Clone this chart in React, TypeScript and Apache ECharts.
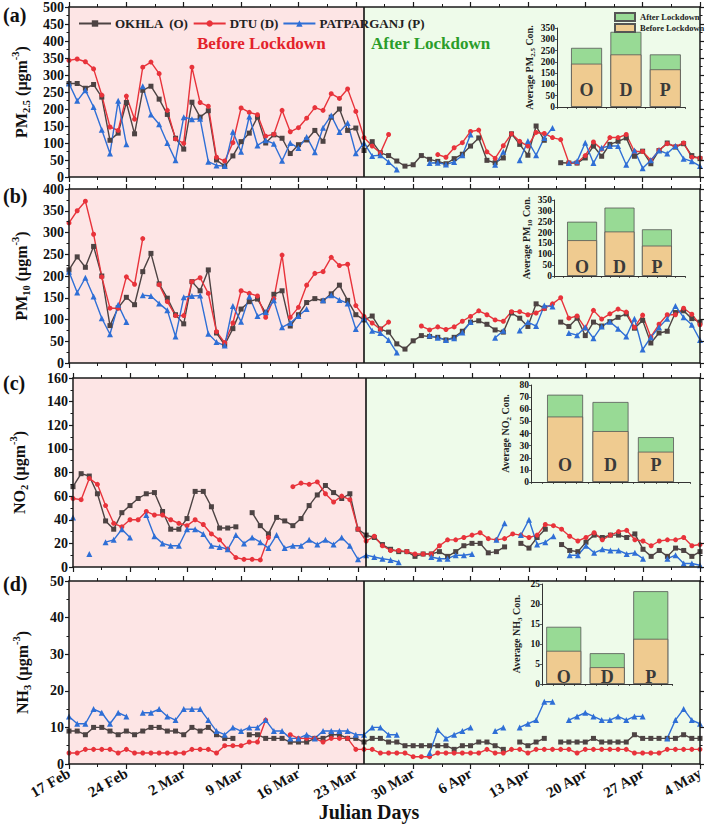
import React, { useEffect, useRef } from "react";
import * as echarts from "echarts";

const tickLabels = ["17 Feb", "24 Feb", "2 Mar", "9 Mar", "16 Mar", "23 Mar", "30 Mar", "6 Apr", "13 Apr", "20 Apr", "27 Apr", "4 May"];
const seriesNames = ["OKHLA  (O)", "DTU (D)", "PATPARGANJ (P)"];
const insetCats = ["O", "D", "P"];
const N = null;

// PM2.5 daily (17 Feb .. 4 May)
const pm25O = [275,275,261,272,235,108,129,219,127,255,267,229,184,114,82,220,176,195,50,32,62,104,129,176,100,124,114,69,95,109,137,105,176,200,137,144,
  78,104,71,63,47,32,36,63,52,46,39,54,67,91,115,49,42,56,127,96,64,150,108,N,42,41,41,56,91,61,96,105,115,61,76,39,78,100,88,98,63,54];
const pm25D = [343,347,339,318,241,147,137,238,170,323,338,304,196,112,99,323,219,208,58,47,101,203,190,183,120,126,196,133,145,173,204,196,245,231,259,193,
  116,91,71,125,N,N,N,N,N,66,58,86,101,134,138,74,55,92,127,105,91,131,128,116,110,42,42,63,103,82,116,116,125,75,75,49,79,98,90,100,58,56];
const pm25P = [275,224,255,206,139,69,224,96,N,267,184,155,100,49,176,170,171,45,34,32,133,74,178,93,108,98,48,100,85,118,73,145,181,132,159,70,
  100,62,64,44,22,N,N,N,41,42,37,44,64,125,N,N,36,74,N,49,106,64,115,144,N,41,46,101,41,86,91,91,36,78,26,49,78,69,91,54,46,32];

// PM10
const pm10O = [214,244,220,268,200,86,127,151,134,210,252,182,149,111,90,187,166,214,69,42,79,124,141,147,115,158,166,85,111,139,148,143,159,179,144,111,
  99,108,78,71,44,32,51,63,61,59,53,59,73,94,97,89,76,71,115,103,84,136,126,N,94,84,103,63,94,85,95,105,113,80,98,46,69,73,116,120,102,94];
const pm10D = [322,350,372,296,198,126,126,198,181,286,N,180,141,109,109,187,196,160,72,47,92,166,160,154,105,148,248,105,128,179,206,210,243,224,227,132,
  107,92,78,94,N,N,N,85,76,83,77,83,96,107,120,111,99,96,118,118,111,115,125,136,150,103,108,80,121,101,113,124,117,82,110,60,89,111,111,126,112,88];
const pm10P = [210,162,196,153,103,66,134,94,N,156,154,137,121,61,151,154,155,67,48,40,131,95,153,108,117,144,82,92,108,124,N,144,156,145,137,78,
  103,74,69,53,24,N,N,N,63,58,53,57,70,94,N,N,58,74,N,75,94,85,132,130,N,69,64,82,57,84,95,79,61,102,31,59,82,102,131,105,88,53];

// NO2
const no2O = [68,79,77,62,39,32,46,52,58,62,63,47,32,32,41,64,64,51,33,33,34,N,46,35,28,42,39,35,41,52,61,69,63,58,62,32,
  27,25,19,15,13,13,9,11,11,13,9,13,18,20,20,12,13,17,N,20,16,25,32,N,19,14,13,21,27,25,27,27,25,28,15,9,14,9,16,14,9,13];
const no2D = [58,57,75,70,52,37,34,40,40,47,44,44,40,37,35,40,36,28,23,15,8,6.5,6.5,6,25,N,N,68,71,70,72,62,55,60,57,32,
  22,26,18,14,14,13,11,11,11,18,23,23,25,27,29,24,23,24,28,27,25,27,36,35,32,26,22,25,29,23,27,30,31,23,22,18,22,23,23,25,18,19];
const no2P = [42,N,11,N,21,23,32,25,N,44,26,20,18,18,32,32,28,18,17,15,27,20,25,21,16,27,16,18,18,23,19,23,19,25,18,6.5,
  10,8.5,7,6,4,N,N,N,8.5,7,7,10,10,11,N,N,23,37,N,27,40,19,21,26,N,10,10,18,12,15,14,14,11,12,7,N,N,7,10,3,3,1.5];

// NH3
const nh3O = [9,9,8,10,10,9,8,9,8,9,10,10,9,9,8,10,9,10,8,7,7,N,8,8,7,7,7,6,6,6,7,7,8,8,7,7,
  6,7,7,6,6,5,5,5,5,5,5,4,5,5,6,6,5,4,N,6,5,6,7,N,6,6,6,6,7,6,6,6,6,8,7,7,7,7,7,8,7,7];
const nh3D = [3,3,4,4,4,4,3,4,3,3,3,3,3,3,3,4,4,4,3,5,5,5,6,6,12,N,N,8,7,7,7,6,7,7,7,4,
  4,4,3,3,3,3,2,2,2,3,3,3,3,3,3,4,3,3,4,4,3,4,4,4,4,4,3,4,4,4,4,4,4,3,3,3,3,4,4,4,4,4];
const nh3P = [13,11,11,15,14,11,14,13,N,14,14,15,13,12,15,15,15,12,9,8,10,9,10,10,12,9,9,7,7,8,7,9,9,9,9,8,
  8,10,10,8,8,N,N,N,3,9.3,7,8,9,10,N,N,9,10,N,10,11,12,17,17,N,12,13,14,13,12,12,13,12,13,13,N,N,7,12,15,12,11];

// inset averages (before lockdown, after lockdown, stacked)
const pm25Before = [192, 233, 167];
const pm25After = [70, 100, 66];
const pm10Before = [165, 205, 140];
const pm10After = [85, 110, 75];
const no2Before = [54, 42, 25];
const no2After = [18, 24, 12];
const nh3Before = [8.3, 4.2, 11.3];
const nh3After = [6.0, 3.5, 11.9];

const serif = "'Liberation Serif', 'Times New Roman', serif";
const colors = ["#4d4343", "#e8333b", "#2f6fd6"];
const symbols = ["rect", "circle", "triangle"];
const symbolSizes = [5, 5, 6];

const panels = [
  { data: [pm25O, pm25D, pm25P], max: 500, interval: 50, top: 7, height: 170, sub: "2.5", base: "PM", gap: 37,
    before: pm25Before, after: pm25After, inset: { left: 557, top: 28, width: 128, height: 79, min: 0.25, max: 3.5, ymax: 350, yint: 50, bw: 31, dist: 8, gap: 21 } },
  { data: [pm10O, pm10D, pm10P], max: 400, interval: 50, top: 189, height: 174, sub: "10", base: "PM", gap: 37,
    before: pm10Before, after: pm10After, inset: { left: 554, top: 200, width: 131, height: 76, min: 0.25, max: 3.75, ymax: 350, yint: 50, bw: 30, dist: 0, gap: 21 } },
  { data: [no2O, no2D, no2P], max: 160, interval: 20, top: 378, height: 189, sub: "2", base: "NO", gap: 43,
    before: no2Before, after: no2After, inset: { left: 531, top: 385, width: 159, height: 97, min: 0.25, max: 3.75, ymax: 80, yint: 10, bw: 36, dist: 8, gap: 19 } },
  { data: [nh3O, nh3D, nh3P], max: 50, interval: 10, top: 581, height: 183, sub: "3", base: "NH", gap: 36,
    before: nh3Before, after: nh3After, inset: { left: 542, top: 584, width: 130.5, height: 100, min: 0.5, max: 3.5, ymax: 25, yint: 5, bw: 35, dist: -2, gap: 19 } },
];

const lineC = "#1a1a1a";

export default function App() {
  const ref = useRef<HTMLDivElement>(null);
  useEffect(() => {
    if (!ref.current) return;
    const chart = echarts.init(ref.current, null, { renderer: "svg" });
    const grid: any[] = [];
    const xAxis: any[] = [];
    const yAxis: any[] = [];
    const series: any[] = [];

    panels.forEach((p) => {
      grid.push({ left: 69, top: p.top, width: 631, height: p.height });
    });
    panels.forEach((p) => {
      grid.push({ left: p.inset.left, top: p.inset.top, width: p.inset.width, height: p.inset.height });
    });

    const tickBase = {
      z: 10,
      axisLine: { show: true, onZero: false, lineStyle: { color: lineC, width: 1.5 } },
      axisTick: { show: true, inside: false, length: 5, lineStyle: { color: lineC, width: 1.2 } },
      minorTick: { show: true, splitNumber: 2, length: 3, lineStyle: { color: lineC, width: 1 } },
      splitLine: { show: false },
    };

    // main x axes (bottom) 0..3
    panels.forEach((p, i) => {
      xAxis.push({
        type: "value", gridIndex: i, min: 0, max: 77, interval: 7, position: "bottom",
        ...tickBase,
        axisLabel: {
          show: i === 3, rotate: 30, fontSize: 15, fontWeight: "bold", fontFamily: serif, color: "#111", margin: 8,
          formatter: (v: number) => tickLabels[Math.round(v / 7)] || "",
        },
      });
    });
    // main x axes (top) 4..7
    panels.forEach((p, i) => {
      xAxis.push({
        type: "value", gridIndex: i, min: 0, max: 77, interval: 7, position: "top",
        ...tickBase, axisLabel: { show: false },
      });
    });
    // inset x axes 8..11
    panels.forEach((p, i) => {
      xAxis.push({
        type: "value", gridIndex: 4 + i, min: p.inset.min, max: p.inset.max, interval: 0.25, position: "bottom", z: 10,
        axisLine: { show: true, onZero: false, lineStyle: { color: "#333", width: 1 } },
        axisTick: { show: true, length: 2, lineStyle: { color: "#333", width: 0.8 } },
        splitLine: { show: false }, axisLabel: { show: false },
      });
    });

    // main y axes left 0..3
    panels.forEach((p, i) => {
      yAxis.push({
        type: "value", gridIndex: i, min: 0, max: p.max, interval: p.interval, position: "left",
        ...tickBase,
        axisTick: { show: true, inside: false, length: 4, lineStyle: { color: lineC, width: 1.2 } },
        minorTick: { show: true, splitNumber: 2, length: 2.5, lineStyle: { color: lineC, width: 1 } },
        axisLabel: { fontSize: 14, lineHeight: 11, fontWeight: "bold", fontFamily: serif, color: "#111", margin: 5 },
        name: `{n|${p.base}}{s|${p.sub}}{n| (μgm}{p|-3}{n|)}`,
        nameLocation: "middle", nameGap: p.gap, nameRotate: 90,
        nameTextStyle: {
          rich: {
            n: { fontSize: 16, fontWeight: "bold", fontFamily: serif, color: "#111", lineHeight: 22 },
            s: { fontSize: 10.5, fontWeight: "bold", fontFamily: serif, color: "#111", lineHeight: 11, verticalAlign: "bottom" },
            p: { fontSize: 10.5, fontWeight: "bold", fontFamily: serif, color: "#111", lineHeight: 11, verticalAlign: "top" },
          },
        },
      });
    });
    // main y axes right 4..7
    panels.forEach((p, i) => {
      yAxis.push({
        type: "value", gridIndex: i, min: 0, max: p.max, interval: p.interval, position: "right",
        ...tickBase,
        axisTick: { show: true, inside: false, length: 4, lineStyle: { color: lineC, width: 1.2 } },
        minorTick: { show: true, splitNumber: 2, length: 2.5, lineStyle: { color: lineC, width: 1 } },
        axisLabel: { show: false },
      });
    });
    // inset y axes 8..11
    panels.forEach((p, i) => {
      yAxis.push({
        type: "value", gridIndex: 4 + i, min: 0, max: p.inset.ymax, interval: p.inset.yint, position: "left", z: 10,
        axisLine: { show: true, onZero: false, lineStyle: { color: "#333", width: 1 } },
        axisTick: { show: true, length: 2, lineStyle: { color: "#333", width: 0.8 } },
        splitLine: { show: false },
        axisLabel: { fontSize: 9.5, fontWeight: "bold", fontFamily: serif, color: "#111", margin: 2 },
        name: `{n|Average ${p.base}}{s|${p.sub}}{n| Con.}`,
        nameLocation: "middle", nameGap: p.inset.gap, nameRotate: 90,
        nameTextStyle: {
          rich: {
            n: { fontSize: 10, fontWeight: "bold", fontFamily: serif, color: "#222", lineHeight: 13 },
            s: { fontSize: 7, fontWeight: "bold", fontFamily: serif, color: "#222", lineHeight: 7, verticalAlign: "bottom" },
          },
        },
      });
    });

    panels.forEach((p, i) => {
      // background & lockdown line
      series.push({
        type: "line", xAxisIndex: i, yAxisIndex: i, data: [], silent: true, z: 1,
        markArea: {
          silent: true,
          data: [
            [{ xAxis: 0, itemStyle: { color: "#fde5e5" } }, { xAxis: 36 }],
            [{ xAxis: 36, itemStyle: { color: "#eefbea" } }, { xAxis: 77 }],
          ],
        },
        markLine: {
          silent: true, symbol: ["none", "none"], label: { show: false },
          lineStyle: { color: "#000", width: 1.5, type: "solid" },
          data: [{ xAxis: 36 }],
        },
      });
      p.data.forEach((arr, k) => {
        series.push({
          name: seriesNames[k], type: "line", xAxisIndex: i, yAxisIndex: i, z: 3,
          data: arr.map((v, d) => [d, v]),
          symbol: symbols[k], symbolSize: symbolSizes[k], showSymbol: true, showAllSymbol: true,
          connectNulls: false,
          lineStyle: { color: colors[k], width: 1.4 },
          itemStyle: { color: colors[k] },
        });
      });
      // inset bars: after-lockdown part stacked on top of before-lockdown part
      series.push({
        name: "After Lockdown", type: "bar", xAxisIndex: 8 + i, yAxisIndex: 8 + i,
        barWidth: p.inset.bw, barGap: "-100%", z: 4,
        data: p.after.map((v, d) => [d + 1, v + p.before[d]]),
        itemStyle: { color: "#98da95", borderColor: "#555", borderWidth: 0.8 },
      });
      series.push({
        name: "Before Lockdown", type: "bar", xAxisIndex: 8 + i, yAxisIndex: 8 + i,
        barWidth: p.inset.bw, barGap: "-100%", z: 5,
        data: p.before.map((v, d) => [d + 1, v]),
        itemStyle: { color: "#efcb90", borderColor: "#555", borderWidth: 0.8 },
        label: {
          show: true, position: "insideBottom", distance: p.inset.dist,
          formatter: (prm: any) => insetCats[prm.dataIndex],
          fontSize: 18, fontWeight: "bold", fontFamily: serif, color: "#3a3a3a",
        },
      });
    });

    const textEl = (text: string, x: number, y: number, size: number, fill: string, align = "left") => ({
      type: "text", x, y, z: 50,
      style: { text, font: `bold ${size}px ${serif}`, fill, textAlign: align, textVerticalAlign: "middle" },
    });

    chart.setOption({
      animation: false,
      backgroundColor: "#ffffff",
      grid, xAxis, yAxis, series,
      legend: [
        {
          data: seriesNames, left: 73, top: 12, itemWidth: 32, itemHeight: 8, itemGap: 4, z: 20,
          textStyle: { fontFamily: serif, fontWeight: "bold", fontSize: 13, color: "#222", padding: [0, 0, 0, -1] },
        },
        {
          data: ["After Lockdown", "Before Lockdown"], orient: "vertical", left: 609, top: 7, z: 20,
          itemWidth: 20, itemHeight: 8, itemGap: 1, icon: "rect",
          textStyle: { fontFamily: serif, fontWeight: "bold", fontSize: 8.5, color: "#222" },
        },
      ],
      graphic: [
        textEl("(a)", 3, 15, 20, "#111"),
        textEl("(b)", 3, 196, 20, "#111"),
        textEl("(c)", 3, 383, 20, "#111"),
        textEl("(d)", 3, 584, 20, "#111"),
        textEl("Before Lockdown", 197, 43, 17, "#e3232b"),
        textEl("After Lockdown", 371, 43, 17, "#2a9d2a"),
        textEl("Julian Days", 369, 812, 20, "#111", "center"),
      ],
    });
    return () => chart.dispose();
  }, []);
  return <div ref={ref} style={{ position: "absolute", left: 0, top: 0, width: 708, height: 826 }} />;
}
